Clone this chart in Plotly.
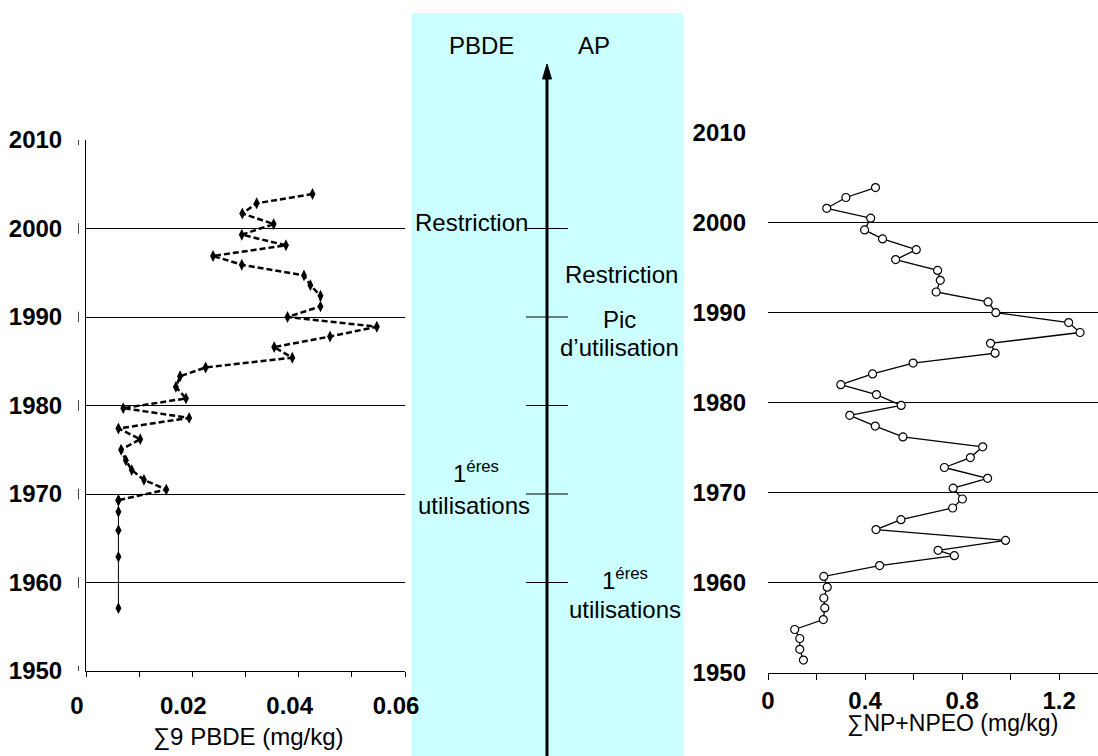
import plotly.graph_objects as go

# Sediment core profiles: PBDE (left) and NP+NPEO (right), depth dated in years
pbde_years = [2003.9, 2002.85, 2001.7, 2000.5, 1999.3, 1998.1, 1996.9, 1995.9, 1994.7,
              1993.6, 1992.4, 1991.2, 1990.0, 1988.9, 1987.8, 1986.6, 1985.4, 1984.3,
              1983.3, 1982.1, 1980.8, 1979.7, 1978.6, 1977.4, 1976.2, 1975.0, 1973.8,
              1972.7, 1971.6, 1970.5, 1969.3, 1968.0, 1965.9, 1962.9, 1957.1]
pbde_vals = [0.0426, 0.0321, 0.0294, 0.0353, 0.0293, 0.0376, 0.0239, 0.0293, 0.0410,
             0.0422, 0.0441, 0.0441, 0.0379, 0.0547, 0.0459, 0.0354, 0.0388, 0.0225,
             0.0177, 0.0169, 0.0188, 0.0070, 0.0194, 0.0061, 0.0102, 0.0066, 0.0075,
             0.0086, 0.0109, 0.0151, 0.0061, 0.0061, 0.0061, 0.0061, 0.0061]

np_years = [2003.9, 2002.8, 2001.6, 2000.5, 1999.2, 1998.2, 1997.0, 1995.9, 1994.7,
            1993.6, 1992.3, 1991.2, 1990.0, 1988.9, 1987.8, 1986.6, 1985.5, 1984.4,
            1983.2, 1982.0, 1980.9, 1979.7, 1978.6, 1977.4, 1976.2, 1975.1, 1973.9,
            1972.8, 1971.6, 1970.5, 1969.3, 1968.3, 1967.0, 1965.9, 1964.7, 1963.6,
            1963.0, 1961.9, 1960.7, 1959.5, 1958.3, 1957.2, 1955.9, 1954.8, 1953.8,
            1952.6, 1951.4]
np_vals = [0.443, 0.321, 0.242, 0.423, 0.398, 0.472, 0.611, 0.526, 0.699,
           0.710, 0.693, 0.907, 0.939, 1.239, 1.286, 0.917, 0.936, 0.598,
           0.431, 0.300, 0.447, 0.549, 0.337, 0.442, 0.556, 0.885, 0.834,
           0.727, 0.905, 0.763, 0.801, 0.761, 0.548, 0.445, 0.979, 0.701,
           0.768, 0.460, 0.230, 0.244, 0.230, 0.234, 0.228, 0.110, 0.131,
           0.131, 0.146]

year_ticks = [1950, 1960, 1970, 1980, 1990, 2000, 2010]
pbde_ticks = [0, 0.02, 0.04, 0.06]
pbde_ticktext = ["0", "0.02", "0.04", "0.06"]
np_ticks = [0, 0.4, 0.8, 1.2]
np_ticktext = ["0", "0.4", "0.8", "1.2"]
timeline_marks = [2000, 1990, 1980, 1970, 1960]

W, H = 1098, 756
FONT = "Liberation Sans, Arial, sans-serif"


def px(x):
    return x / W


def py(y):
    return 1 - y / H


# PBDE record: dashed line above the vertical tail of the oldest layers
split = pbde_years.index(1969.3) + 1
fig = go.Figure()
fig.add_trace(go.Scatter(
    x=pbde_vals[:split], y=pbde_years[:split], mode="lines+markers",
    line=dict(color="black", width=2.5, dash="6px,3px"),
    marker=dict(symbol="diamond-tall", size=8.5, color="black"),
    xaxis="x", yaxis="y", showlegend=False))
fig.add_trace(go.Scatter(
    x=pbde_vals[split - 1:], y=pbde_years[split - 1:], mode="lines+markers",
    line=dict(color="black", width=1),
    marker=dict(symbol="diamond-tall", size=8.5, color="black"),
    xaxis="x", yaxis="y", showlegend=False))

# NP + NPEO record
fig.add_trace(go.Scatter(
    x=np_vals, y=np_years, mode="lines+markers",
    line=dict(color="black", width=1.3),
    marker=dict(symbol="circle", size=8, color="white",
                line=dict(color="black", width=1.2)),
    xaxis="x2", yaxis="y2", showlegend=False))

tickfont = dict(family=FONT, size=24, color="black", weight="bold")

fig.update_layout(
    width=W, height=H,
    margin=dict(l=0, r=0, t=0, b=0, pad=0),
    paper_bgcolor="white", plot_bgcolor="white",
    xaxis=dict(domain=[px(86), px(405)], range=[0, 0.06], anchor="y",
               automargin=False,
               tickvals=pbde_ticks, ticktext=pbde_ticktext,
               ticks="outside", ticklen=5, tickcolor="black", tickwidth=1,
               minor=dict(dtick=0.01, ticks="outside", ticklen=5,
                          tickcolor="black", tickwidth=1),
               showline=True, linecolor="black", linewidth=1,
               showgrid=False, zeroline=False, tickfont=tickfont,
               ticklabelstandoff=8, ticklabelshift=-9),
    yaxis=dict(domain=[py(671), py(140)], range=[1950, 2010], anchor="x",
               automargin=False,
               tickvals=year_ticks, ticks="", showline=True,
               linecolor="black", linewidth=1,
               showgrid=True, gridcolor="black", gridwidth=1,
               zeroline=False, tickfont=tickfont, ticklabelstandoff=18),
    xaxis2=dict(domain=[px(768), 1.0], range=[0, 1.36], anchor="y2",
                automargin=False,
                tickvals=np_ticks, ticktext=np_ticktext,
                ticks="outside", ticklen=6, tickcolor="black", tickwidth=1,
                minor=dict(dtick=0.2, ticks="outside", ticklen=6,
                           tickcolor="black", tickwidth=1),
                showline=True, linecolor="black", linewidth=1,
                showgrid=False, zeroline=False, tickfont=tickfont,
                ticklabelstandoff=0),
    yaxis2=dict(domain=[py(672.7), py(132.7)], range=[1950, 2010], anchor="x2",
                automargin=False,
                tickvals=year_ticks, ticks="", showline=False,
                showgrid=True, gridcolor="black", gridwidth=1,
                zeroline=False, tickfont=tickfont, ticklabelstandoff=21),
)

shapes = []
# timeline panel
shapes.append(dict(type="rect", xref="paper", yref="paper",
                   x0=px(412), x1=px(683), y0=0, y1=py(13),
                   fillcolor="#CCFFFF", line=dict(width=0), layer="below"))
# arrow shaft and head
shapes.append(dict(type="line", xref="paper", yref="paper",
                   x0=px(547), x1=px(547), y0=0, y1=py(76),
                   line=dict(color="black", width=3)))
shapes.append(dict(type="path", xref="paper", yref="paper",
                   path=f"M {px(542.5)},{py(79)} L {px(547)},{py(64)} L {px(551.5)},{py(79)} Z",
                   fillcolor="black", line=dict(color="black", width=1)))
# decade marks on the timeline
for yr in timeline_marks:
    shapes.append(dict(type="line", xref="paper", yref="y",
                       x0=px(526), x1=px(568), y0=yr, y1=yr,
                       line=dict(color="black", width=1)))
# small marks beside the left year labels
for yr in year_ticks:
    shapes.append(dict(type="line", xref="paper", yref="y",
                       x0=px(78.5), x1=px(78.5), y0=yr - 0.6, y1=yr + 0.6,
                       line=dict(color="#444444", width=1)))
fig.update_layout(shapes=shapes)

txt = dict(family=FONT, size=24, color="black")
annotations = [
    ("PBDE", 481, 45), ("AP", 594, 46),
    ("Restriction", 471, 222), ("Restriction", 621, 274),
    ("Pic", 619, 319), ("d’utilisation", 619, 347),
    ("1<sup>éres</sup>", 476, 472), ("utilisations", 474, 505),
    ("1<sup>éres</sup>", 625, 579), ("utilisations", 625, 609),
]
ann = [dict(text=t, x=px(x), y=py(y), xref="paper", yref="paper",
            xanchor="center", yanchor="middle", showarrow=False, font=txt)
       for t, x, y in annotations]
title_font = dict(family=FONT, size=24, color="black")
ann.append(dict(text="∑9 PBDE (mg/kg)", x=px(248), y=py(737), xref="paper",
                yref="paper", xanchor="center", yanchor="middle",
                showarrow=False, font=title_font))
ann.append(dict(text="∑NP+NPEO (mg/kg)", x=px(952), y=py(723), xref="paper",
                yref="paper", xanchor="center", yanchor="middle",
                showarrow=False, font=dict(family=FONT, size=23, color="black")))
fig.update_layout(annotations=ann)

fig.write_html(
    "out.html",
    post_script="document.body.style.margin='0';",
)
